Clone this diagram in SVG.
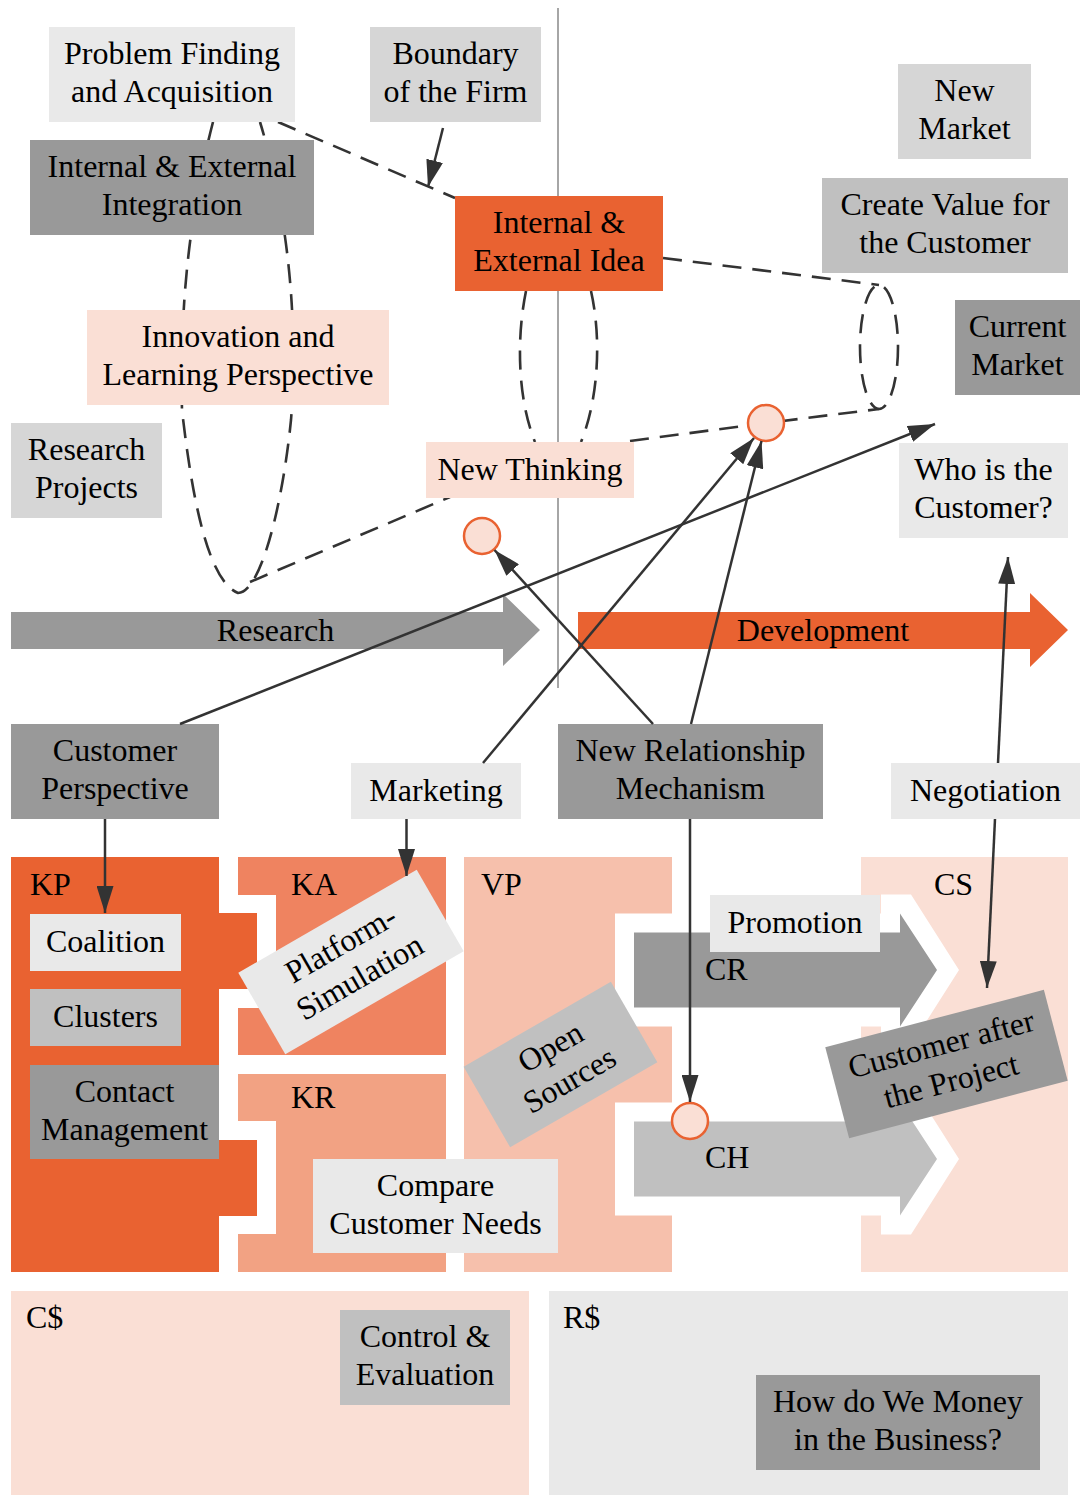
<svg xmlns="http://www.w3.org/2000/svg" width="1080" height="1495" viewBox="0 0 1080 1495">
  <defs>
    <style>
      .t { font-family: "Liberation Serif", "Times New Roman", serif; font-size: 32px; fill: #000; text-anchor: middle; }
      .l { font-family: "Liberation Serif", "Times New Roman", serif; font-size: 32px; fill: #000; }
      .or { fill: #E96231; }
      .ka { fill: #EF8360; }
      .kr { fill: #F2A283; }
      .vp { fill: #F6C0AC; }
      .pk { fill: #FADFD5; }
      .g1 { fill: #E9E9E9; }
      .g2 { fill: #D6D6D6; }
      .g3 { fill: #C0C0C0; }
      .g4 { fill: #999999; }
      .wh { fill: #FFFFFF; }
      .dash { fill: none; stroke: #333; stroke-width: 2.6; stroke-dasharray: 19 11; }
      .arr { fill: none; stroke: #333; stroke-width: 2.5; marker-end: url(#ah); }
      .dot { fill: #FADFD5; stroke: #E96231; stroke-width: 2.5; }
    </style>
    <marker id="ah" markerWidth="27" markerHeight="17" refX="27" refY="8.5" orient="auto" markerUnits="userSpaceOnUse">
      <path d="M0,0 L27,8.5 L0,17 z" fill="#333"/>
    </marker>
  </defs>

  <rect width="1080" height="1495" fill="#FFFFFF"/>

  <!-- firm boundary -->
  <line x1="558" y1="8" x2="558" y2="688" stroke="#A6A6A6" stroke-width="2"/>

  <!-- dashed relations -->
  <g id="dashed-connectors">
    <path class="dash" d="M278,122 L455,198"/>
    <path class="dash" d="M213,122 C185,230 180,330 182,410 C190,480 205,580 238,593 C262,592 283,500 291,420 C298,330 290,220 260,122"/>
    <path class="dash" d="M250,582 L450,497"/>
    <path class="dash" d="M526,291 C516,340 518,400 535,442 M591,291 C602,340 598,400 581,442"/>
    <path class="dash" d="M663,258 L879,285"/>
    <path class="dash" d="M630,441 L766,423 L879,409"/>
    <ellipse class="dash" cx="879" cy="347" rx="19" ry="62"/>
  </g>

  <!-- upper nodes -->
  <g id="problem-finding">
    <rect class="g1" x="49" y="27" width="246" height="95"/>
    <text class="t" x="172" y="64">Problem Finding</text>
    <text class="t" x="172" y="102">and Acquisition</text>
  </g>
  <g id="boundary-of-firm">
    <rect class="g2" x="370" y="27" width="171" height="95"/>
    <text class="t" x="455.5" y="64">Boundary</text>
    <text class="t" x="455.5" y="102">of the Firm</text>
  </g>
  <g id="integration">
    <rect class="g4" x="30" y="140" width="284" height="95"/>
    <text class="t" x="172" y="177">Internal &amp; External</text>
    <text class="t" x="172" y="215">Integration</text>
  </g>
  <g id="idea">
    <rect class="or" x="455" y="196" width="208" height="95"/>
    <text class="t" x="559" y="233">Internal &amp;</text>
    <text class="t" x="559" y="271">External Idea</text>
  </g>
  <g id="new-market">
    <rect class="g2" x="898" y="64" width="133" height="95"/>
    <text class="t" x="964.5" y="101">New</text>
    <text class="t" x="964.5" y="139">Market</text>
  </g>
  <g id="create-value">
    <rect class="g3" x="822" y="178" width="246" height="95"/>
    <text class="t" x="945" y="215">Create Value for</text>
    <text class="t" x="945" y="253">the Customer</text>
  </g>
  <g id="current-market">
    <rect class="g4" x="955" y="300" width="125" height="95"/>
    <text class="t" x="1017.5" y="337">Current</text>
    <text class="t" x="1017.5" y="375">Market</text>
  </g>
  <g id="innovation">
    <rect class="pk" x="87" y="310" width="302" height="95"/>
    <text class="t" x="238" y="347">Innovation and</text>
    <text class="t" x="238" y="385">Learning Perspective</text>
  </g>
  <g id="research-projects">
    <rect class="g2" x="11" y="423" width="151" height="95"/>
    <text class="t" x="86.5" y="460">Research</text>
    <text class="t" x="86.5" y="498">Projects</text>
  </g>
  <g id="new-thinking">
    <rect class="pk" x="426" y="442" width="208" height="56"/>
    <text class="t" x="530" y="480">New Thinking</text>
  </g>
  <g id="who-customer">
    <rect class="g1" x="899" y="443" width="169" height="95"/>
    <text class="t" x="983.5" y="480">Who is the</text>
    <text class="t" x="983.5" y="518">Customer?</text>
  </g>
  <g id="junction-thinking"><circle class="dot" cx="482" cy="536" r="18"/></g>
  <g id="junction-market"><circle class="dot" cx="766" cy="423" r="18"/></g>

  <!-- phase bars -->
  <g id="research">
    <polygon class="g4" points="11,612 503,612 503,594 540,630 503,666 503,649 11,649"/>
    <text class="t" x="275.5" y="641">Research</text>
  </g>
  <g id="development">
    <polygon class="or" points="578,612 1030,612 1030,593 1068,630 1030,667 1030,649 578,649"/>
    <text class="t" x="823" y="641">Development</text>
  </g>

  <!-- middle nodes -->
  <g id="customer-perspective">
    <rect class="g4" x="11" y="724" width="208" height="95"/>
    <text class="t" x="115" y="761">Customer</text>
    <text class="t" x="115" y="799">Perspective</text>
  </g>
  <g id="marketing">
    <rect class="g1" x="351" y="763" width="170" height="56"/>
    <text class="t" x="436" y="801">Marketing</text>
  </g>
  <g id="new-relationship">
    <rect class="g4" x="558" y="724" width="265" height="95"/>
    <text class="t" x="690.5" y="761">New Relationship</text>
    <text class="t" x="690.5" y="799">Mechanism</text>
  </g>
  <g id="negotiation">
    <rect class="g1" x="891" y="763" width="189" height="56"/>
    <text class="t" x="985.5" y="801">Negotiation</text>
  </g>

  <!-- business model canvas -->
  <g id="canvas-blocks">
    <rect class="ka" x="238" y="857" width="208" height="198"/>
    <rect class="kr" x="238" y="1074" width="208" height="198"/>
    <rect class="wh" x="238" y="895" width="38" height="113"/>
    <rect class="wh" x="238" y="1121" width="38" height="113"/>
    <rect class="or" x="11" y="857" width="208" height="415"/>
    <rect class="or" x="218" y="913" width="39" height="76"/>
    <rect class="or" x="218" y="1140" width="39" height="76"/>
    <rect class="vp" x="464" y="857" width="208" height="415"/>
    <rect class="pk" x="861" y="857" width="207" height="415"/>
    <polygon class="wh" points="615,913.5 881,913.5 881,894.5 911,894.5 959,970 911,1045.5 881,1045.5 881,1026.5 615,1026.5"/>
    <polygon class="wh" points="615,1102.5 881,1102.5 881,1083.5 911,1083.5 959,1159 911,1234.5 881,1234.5 881,1215.5 615,1215.5"/>
    <polygon class="g4" points="634,932.5 900,932.5 900,913.5 937,970 900,1026.5 900,1007.5 634,1007.5"/>
    <polygon class="g3" points="634,1121.5 900,1121.5 900,1102.5 937,1159 900,1215.5 900,1196.5 634,1196.5"/>
    <rect class="pk" x="11" y="1291" width="518" height="204"/>
    <rect class="g1" x="549" y="1291" width="519" height="204"/>
    <text class="l" x="30" y="895">KP</text>
    <text class="l" x="291" y="895">KA</text>
    <text class="l" x="481" y="895">VP</text>
    <text class="l" x="934" y="895">CS</text>
    <text class="l" x="705" y="980">CR</text>
    <text class="l" x="291" y="1108">KR</text>
    <text class="l" x="705" y="1168">CH</text>
    <text class="l" x="26" y="1328">C$</text>
    <text class="l" x="563" y="1328">R$</text>
  </g>

  <g id="coalition">
    <rect class="g1" x="30" y="914" width="151" height="57"/>
    <text class="t" x="105.5" y="952">Coalition</text>
  </g>
  <g id="clusters">
    <rect class="g3" x="30" y="989" width="151" height="57"/>
    <text class="t" x="105.5" y="1027">Clusters</text>
  </g>
  <g id="contact-management">
    <rect class="g4" x="30" y="1065" width="189" height="94"/>
    <text class="t" x="124.5" y="1102">Contact</text>
    <text class="t" x="124.5" y="1140">Management</text>
  </g>
  <g id="platform-simulation" transform="translate(351,962) rotate(-30)">
    <rect class="g1" x="-103" y="-47" width="206" height="94"/>
    <text class="t" x="0" y="-10">Platform-</text>
    <text class="t" x="0" y="28">Simulation</text>
  </g>
  <g id="open-sources" transform="translate(560.5,1064.5) rotate(-30)">
    <rect class="g3" x="-85" y="-46.5" width="170" height="93"/>
    <text class="t" x="0" y="-9.5">Open</text>
    <text class="t" x="0" y="28.5">Sources</text>
  </g>
  <g id="compare-needs">
    <rect class="g1" x="313" y="1159" width="245" height="94"/>
    <text class="t" x="435.5" y="1196">Compare</text>
    <text class="t" x="435.5" y="1234">Customer Needs</text>
  </g>
  <g id="promotion">
    <rect class="g1" x="710" y="895" width="170" height="57"/>
    <text class="t" x="795" y="933">Promotion</text>
  </g>
  <g id="customer-after" transform="translate(946.5,1064) rotate(-14.7)">
    <rect class="g4" x="-113" y="-47" width="226" height="94"/>
    <text class="t" x="0" y="-10">Customer after</text>
    <text class="t" x="0" y="28">the Project</text>
  </g>
  <g id="control-evaluation">
    <rect class="g3" x="340" y="1310" width="170" height="95"/>
    <text class="t" x="425" y="1347">Control &amp;</text>
    <text class="t" x="425" y="1385">Evaluation</text>
  </g>
  <g id="money">
    <rect class="g4" x="756" y="1375" width="284" height="95"/>
    <text class="t" x="898" y="1412">How do We Money</text>
    <text class="t" x="898" y="1450">in the Business?</text>
  </g>
  <g id="junction-channel"><circle class="dot" cx="690" cy="1121" r="18"/></g>

  <!-- solid arrows -->
  <g id="connectors">
    <line class="arr" x1="443" y1="128" x2="428" y2="187"/>
    <line class="arr" x1="180" y1="724" x2="935" y2="424"/>
    <line class="arr" x1="483" y1="763" x2="754" y2="438"/>
    <line class="arr" x1="691" y1="724" x2="761.5" y2="441"/>
    <line class="arr" x1="653" y1="724" x2="494.5" y2="550"/>
    <line class="arr" x1="998" y1="763" x2="1008" y2="557"/>
    <line class="arr" x1="995" y1="819" x2="987" y2="988"/>
    <line class="arr" x1="105" y1="819" x2="105" y2="913"/>
    <line class="arr" x1="406.5" y1="819" x2="406.5" y2="876"/>
    <line class="arr" x1="690" y1="819" x2="690" y2="1102"/>
  </g>
</svg>
